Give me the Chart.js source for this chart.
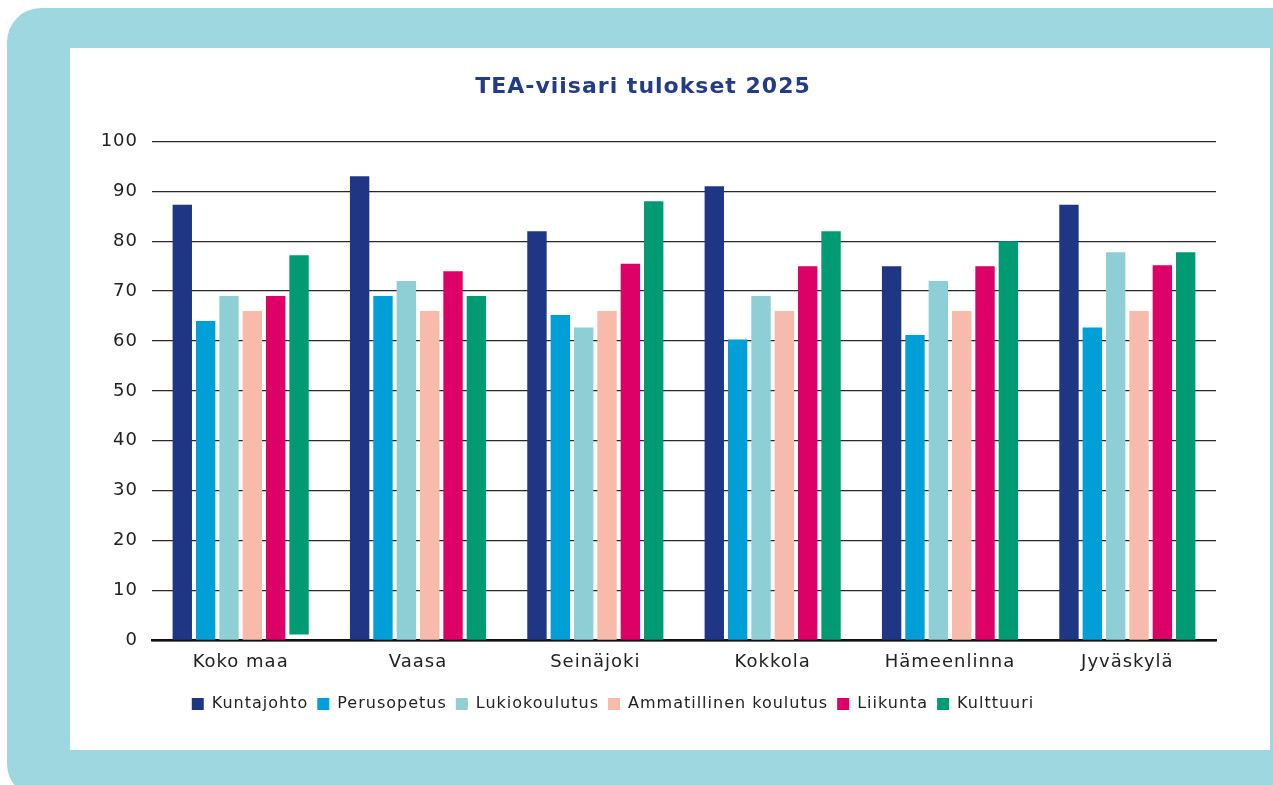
<!DOCTYPE html>
<html lang="fi">
<head>
<meta charset="utf-8">
<title>TEA-viisari tulokset 2025</title>
<script src="https://cdn.jsdelivr.net/npm/chart.js"></script>
<style>
  body { margin: 0; background: #fff; width: 1273px; height: 785px; overflow: hidden; position: relative; }
  #frame { position: absolute; left: 7px; top: 8px; width: 1300px; height: 790px; background: #9fd7e1; border-radius: 34px; }
  #panel { position: absolute; left: 70px; top: 48px; width: 1200px; height: 702px; background: #fff; }
</style>
</head>
<body>
<div id="frame"></div>
<div id="panel"><canvas id="chart" width="1200" height="702"></canvas></div>

<script>
  // data
  const categories = ['Koko maa', 'Vaasa', 'Seinäjoki', 'Kokkola', 'Hämeenlinna', 'Jyväskylä'];
  const seriesNames = ['Kuntajohto', 'Perusopetus', 'Lukiokoulutus', 'Ammatillinen koulutus', 'Liikunta', 'Kulttuuri'];
  const kuntajohto = [87.3, 93, 82, 91, 75, 87.3];
  const perusopetus = [64, 69, 65.2, 60.3, 61.2, 62.7];
  const lukiokoulutus = [69, 72, 62.7, 69, 72, 77.8];
  const ammatillinen = [66, 66, 66, 66, 66, 66];
  const liikunta = [69, 74, 75.5, 75, 75, 75.2];
  const kulttuuri = [77.2, 69, 88, 82, 80, 77.8];
  // some bars in the original don't start exactly at zero
  const liikuntaBase = [0, 0, 0, 0, 0, 0.3];
  const kulttuuriBase = [1.2, 0, 0, 0, 0, 0];
  const yTicks = [0, 10, 20, 30, 40, 50, 60, 70, 80, 90, 100];

  const colors = ['#1f3685', '#009fd8', '#8ecfd5', '#f7baab', '#dc0067', '#009b72'];
  const values = [kuntajohto, perusopetus, lukiokoulutus, ammatillinen, liikunta, kulttuuri];
  const bases = [null, null, null, null, liikuntaBase, kulttuuriBase];

  const FONT = '"DejaVu Sans", "Noto Sans", sans-serif';

  const datasets = seriesNames.map(function (name, i) {
    let data = values[i];
    if (bases[i]) {
      data = values[i].map(function (v, j) { return bases[i][j] ? [bases[i][j], v] : v; });
    }
    return {
      label: name,
      data: data,
      backgroundColor: colors[i],
      borderWidth: 0,
      barPercentage: 0.83,
      categoryPercentage: 0.79
    };
  });

  // the original font is wider than anything installed, so space the letters a bit
  const spacing = {
    id: 'spacing',
    beforeUpdate: function (chart) { chart.ctx.letterSpacing = '1px'; },
    beforeDraw: function (chart) { chart.ctx.letterSpacing = '1px'; }
  };

  // legend in the original sits a little left of centre
  const legendShift = {
    id: 'legendShift',
    afterLayout: function (chart) {
      chart.legend.left -= 30;
      chart.legend.right -= 30;
    }
  };

  new Chart(document.getElementById('chart'), {
    type: 'bar',
    data: { labels: categories, datasets: datasets },
    plugins: [spacing, legendShift],
    options: {
      responsive: false,
      animation: false,
      layout: { padding: { left: 0, right: 54, top: 0, bottom: 28 } },
      plugins: {
        title: {
          display: true,
          text: 'TEA-viisari tulokset 2025',
          color: '#243b8a',
          font: { family: FONT, size: 22, weight: 'bold' },
          padding: { top: 26, bottom: 41 }
        },
        legend: {
          position: 'bottom',
          labels: {
            color: '#222',
            font: { family: FONT, size: 16 },
            boxWidth: 12,
            boxHeight: 12,
            padding: 9
          }
        },
        tooltip: { enabled: false }
      },
      scales: {
        x: {
          grid: { display: false, drawTicks: false },
          border: { color: '#111', width: 2.5 },
          ticks: { color: '#222', font: { family: FONT, size: 18 }, padding: 11 },
          // extra room between the category names and the legend
          afterFit: function (axis) { axis.height += 3; }
        },
        y: {
          min: 0,
          max: 100,
          afterBuildTicks: function (axis) { axis.ticks = yTicks.map(function (v) { return { value: v }; }); },
          afterFit: function (axis) { axis.width = 82; },
          grid: { color: '#2a2a2a', lineWidth: 1.3, drawTicks: false },
          border: { display: false },
          ticks: { color: '#222', font: { family: FONT, size: 18 }, padding: 14 }
        }
      }
    }
  });
</script>
</body>
</html>
